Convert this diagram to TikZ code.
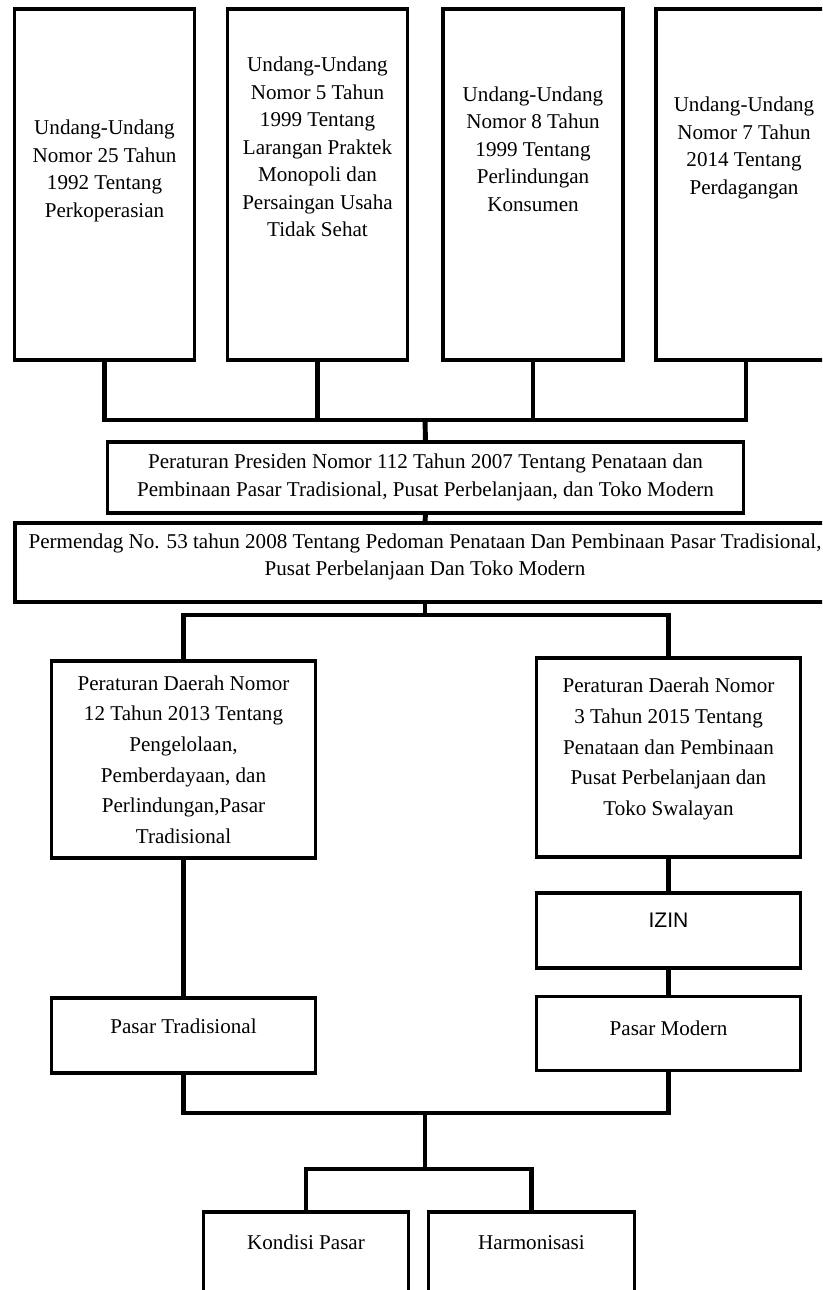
\documentclass[tikz,border=0pt]{standalone}
\usepackage{fontspec}
\setmainfont{Liberation Serif}
\setsansfont{Liberation Sans}
\usetikzlibrary{positioning}

\begin{document}
\begin{tikzpicture}[x=0.02cm,y=-0.02cm,
	every node/.style={inner sep=0pt,outer sep=0pt,font=\fontsize{12}{15.6}\selectfont},
	box/.style={draw,line width=1.9pt,align=center},
	tallbox/.style={box,minimum width=3.6cm,minimum height=7.02cm},
	daerah/.style={box,minimum width=5.27cm,minimum height=3.94cm,font=\fontsize{12}{17.4}\selectfont},
	smallbox/.style={box,minimum width=5.27cm,minimum height=1.48cm},
	endbox/.style={box,minimum width=4.11cm,minimum height=2.4cm},
	txt/.style={align=center},
	oneline/.style={anchor=base},
	link/.style={line width=2.8pt}]
	%% some definitions
	\def\midX{425} % x of the main spine
	\def\rightX{668.5} % x of the right column
	\def\topY{184.5} % centre of the top row

	\useasboundingbox (0,0) rectangle (822,1290);
	\clip (0,0) rectangle (822,1290);

	% undang-undang row
	\node[tallbox] (uu25) at (104.5,\topY) {};
	\node[tallbox] (uu5) at (317.5,\topY) {};
	\node[tallbox] (uu8) at (533,\topY) {};
	\node[tallbox] (uu7) at (746,\topY) {};
	\node[txt] (uu25t) at (104.5,171) {Undang-Undang\\Nomor 25 Tahun\\1992 Tentang\\Perkoperasian};
	\node[txt] (uu5t) at (317.5,147) {Undang-Undang\\Nomor 5 Tahun\\1999 Tentang\\Larangan Praktek\\Monopoli dan\\Persaingan Usaha\\Tidak Sehat};
	\node[txt] (uu8t) at (533,149) {Undang-Undang\\Nomor 8 Tahun\\1999 Tentang\\Perlindungan\\Konsumen};
	\node[txt] (uu7t) at (744,148) {Undang-Undang\\Nomor 7 Tahun\\2014 Tentang\\Perdagangan};

	% perpres and permendag
	\node[box,minimum width=12.72cm,minimum height=1.42cm] (pres) at (425.5,477.5)
		{Peraturan Presiden Nomor 112 Tahun 2007 Tentang Penataan dan\\Pembinaan Pasar Tradisional, Pusat Perbelanjaan, dan Toko Modern};
	\node[box,minimum width=16.4cm,minimum height=1.58cm] (perm) at (\midX,562.5) {};
	\node[txt] (permt) at (\midX,557) {Permendag No. 53 tahun 2008 Tentang Pedoman Penataan Dan Pembinaan Pasar Tradisional,\\Pusat Perbelanjaan Dan Toko Modern};

	% perda
	\node[daerah] (pd12) at (183.5,759.5) {Peraturan Daerah Nomor\\12 Tahun 2013 Tentang\\Pengelolaan,\\Pemberdayaan, dan\\Perlindungan,Pasar\\Tradisional};
	\node[daerah,minimum height=3.98cm] (pd3) at (\rightX,757.5) {};
	\node[txt,font=\fontsize{12}{17.4}\selectfont] (pd3t) at (\rightX,749) {Peraturan Daerah Nomor\\3 Tahun 2015 Tentang\\Penataan dan Pembinaan\\Pusat Perbelanjaan dan\\Toko Swalayan};

	% izin and markets
	\node[smallbox,minimum height=1.5cm] (izin) at (\rightX,930.5) {};
	\node[oneline,font=\sffamily\fontsize{12}{14}\selectfont] (izint) at (\rightX,927) {IZIN};
	\node[smallbox] (pmod) at (\rightX,1033.5) {};
	\node[oneline] (pmodt) at (\rightX,1035) {Pasar Modern};
	\node[smallbox,minimum height=1.5cm] (ptrad) at (183.5,1035.5) {};
	\node[oneline] (ptradt) at (183.5,1033) {Pasar Tradisional};

	% outcomes
	\node[endbox] (kond) at (306,1272) {};
	\node[oneline] (kondt) at (306,1249) {Kondisi Pasar};
	\node[endbox] (harm) at (531.5,1272) {};
	\node[oneline] (harmt) at (531.5,1249) {Harmonisasi};

	% connectors
	\coordinate (j1) at (\midX,420);
	\coordinate (j2) at (\midX,615);
	\coordinate (j3) at (\midX,1113);
	\coordinate (j4) at (\midX,1169);
	\draw[link] (uu25.south) |- (j1) -| (uu7.south);
	\draw[link] (uu5.south) -- (uu5.south |- j1);
	\draw[link] (uu8.south) -- (uu8.south |- j1);
	\draw[link] (j1) -- (pres.north);
	\draw[link] (pres.south) -- (perm.north);
	\draw[link] (perm.south) -- (j2);
	\draw[link] (pd12.north) |- (j2) -| (pd3.north);
	\draw[link] (pd12.south) -- (ptrad.north);
	\draw[link] (pd3.south) -- (izin.north);
	\draw[link] (izin.south) -- (pmod.north);
	\draw[link] (ptrad.south) |- (j3) -| (pmod.south);
	\draw[link] (j3) -- (j4);
	\draw[link] (kond.north) |- (j4) -| (harm.north);

\end{tikzpicture}
\end{document}
